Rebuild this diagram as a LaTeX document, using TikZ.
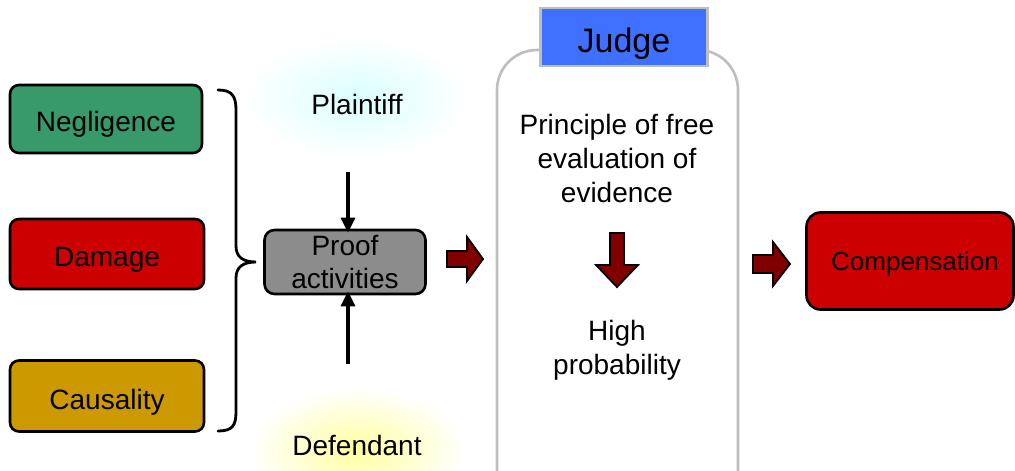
\documentclass[tikz,border=0pt]{standalone}
\usepackage{fontspec}
\setmainfont{Liberation Sans}
\usetikzlibrary{arrows.meta}
\definecolor{cgreen}{RGB}{56,154,106}
\definecolor{cred}{RGB}{204,0,0}
\definecolor{cgold}{RGB}{204,153,0}
\definecolor{cgray}{RGB}{140,140,140}
\definecolor{cdark}{RGB}{128,0,0}
\definecolor{cblue}{RGB}{64,112,255}
\definecolor{cframe}{RGB}{190,190,190}
\tikzset{
  box/.style={draw=black, line width=2.6pt, rounded corners=9pt, minimum width=192pt, minimum height=68pt, inner sep=0pt, font=\fontsize{28}{33}\selectfont, align=center, text height=24pt, text depth=0pt},
  lbl/.style={inner sep=0pt, font=\fontsize{28}{34}\selectfont, align=center},
  blockarrow/.style={draw=black, line width=1.8pt, fill=cdark, line join=miter},
  thinarrow/.style={line width=3.2pt, -{Triangle[length=15pt,width=14pt]}}
}
\begin{document}
\begin{tikzpicture}[x=1pt,y=-1pt]
\clip (0,0) rectangle (1015,471);
\fill[white] (0,0) rectangle (1015,471);
% glows
\shade[inner color=cyan!15, outer color=white] (357,98) ellipse (112pt and 60pt);
\shade[inner color=yellow!38, outer color=white] (357,450) ellipse (108pt and 62pt);
% left boxes
\node[box, fill=cgreen] (neg) at (106,119) {Negligence};
\node[box, fill=cred, minimum width=194pt, minimum height=70pt] (dam) at (107,254) {Damage};
\node[box, fill=cgold, minimum width=194pt, minimum height=71pt, text height=26pt] (cau) at (107,396) {Causality};
% brace
\draw[line width=2.8pt, line cap=round] (218,90) .. controls (232,90) and (236,96) .. (236,110) -- (236,246) .. controls (236,257) and (243,262) .. (256,262) .. controls (243,262) and (236,267) .. (236,278) -- (236,412) .. controls (236,426) and (232,431) .. (218,431);
\coordinate (tip) at (256,262);
% proof activities
\node[box, fill=cgray, minimum width=161pt, minimum height=64pt, rounded corners=10pt, text height=, text depth=] (proof) at (345,262) {Proof\\activities};
\node[lbl] (pl) at (357,104) {Plaintiff};
\node[lbl] (def) at (357,445) {Defendant};
\coordinate (pa) at (348,172);
\coordinate (da) at (348,364);
\draw[thinarrow] (pa) -- ([yshift=-4pt]pa |- proof.north);
\draw[thinarrow] (da) -- ([yshift=4pt]da |- proof.south);
% block arrow 1
\draw[blockarrow] (447,251) -- (467,251) -- (467,237) -- (483,259) -- (467,281) -- (467,267) -- (447,267) -- cycle;
% judge frame
\draw[cframe, line width=2.6pt, rounded corners=40pt] (497,50) rectangle (738,520);
\node[draw=cframe, line width=2.6pt, fill=cblue, minimum width=167pt, minimum height=58pt, inner sep=0pt, font=\fontsize{34}{40}\selectfont, text height=30pt, text depth=0pt] (judge) at (624,37) {Judge};
\node[lbl] (prin) at (617,158) {Principle of free\\evaluation of\\evidence};
\draw[blockarrow] (610,233) -- (624,233) -- (624,265) -- (638,265) -- (617,287) -- (596,265) -- (610,265) -- cycle;
\node[lbl] (high) at (617,350) {High\\probability};
% block arrow 2
\draw[blockarrow] (753,255) -- (773,255) -- (773,242) -- (790,264) -- (773,286) -- (773,273) -- (753,273) -- cycle;
% compensation
\node[box, fill=cred, minimum width=207pt, minimum height=97pt, rounded corners=14pt] (comp) at (910,261) {};
\node[lbl, font=\fontsize{26}{31}\selectfont] (comptext) at (915,264) {Compensation};
\end{tikzpicture}
\end{document}
